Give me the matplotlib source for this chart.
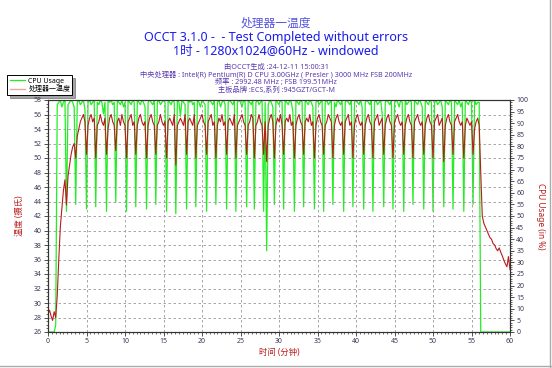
import numpy as np
import matplotlib
matplotlib.use("Agg")
import matplotlib.pyplot as plt
from matplotlib.ticker import MultipleLocator
from matplotlib.lines import Line2D

plt.rcParams['font.family'] = ['Noto Sans', 'Noto Sans CJK SC', 'DejaVu Sans']

# sample step: 0.2 minute
minutes = np.arange(301) * 0.2

cpu_usage = [
    0, 0, 0, 0, 0, 3, 98, 99, 100, 97,
    99, 100, 52, 98, 99, 100, 99, 97, 55, 99,
    100, 98, 99, 100, 96, 53, 99, 100, 98, 99,
    100, 54, 99, 98, 100, 99, 94, 99, 52, 100,
    99, 100, 98, 99, 56, 100, 99, 98, 100, 97,
    99, 52, 100, 99, 98, 100, 99, 54, 100, 99,
    98, 100, 99, 97, 53, 99, 100, 99, 98, 100,
    55, 99, 100, 98, 99, 100, 99, 52, 100, 99,
    98, 100, 99, 51, 100, 99, 93, 100, 99, 98,
    53, 100, 99, 100, 98, 99, 54, 100, 99, 97,
    100, 99, 98, 52, 99, 100, 99, 98, 100, 55,
    99, 100, 97, 99, 100, 98, 53, 99, 100, 99,
    98, 100, 52, 99, 100, 99, 97, 100, 99, 54,
    100, 99, 98, 100, 53, 99, 100, 98, 99, 100,
    52, 99, 35, 98, 100, 99, 97, 55, 100, 99,
    98, 100, 99, 53, 100, 99, 98, 100, 99, 95,
    52, 100, 99, 98, 100, 99, 54, 100, 99, 98,
    100, 99, 97, 53, 99, 100, 98, 99, 100, 52,
    99, 100, 98, 99, 100, 55, 99, 97, 100, 99,
    98, 100, 52, 99, 100, 99, 98, 100, 54, 99,
    100, 99, 98, 100, 97, 53, 99, 100, 99, 98,
    100, 52, 99, 100, 98, 99, 100, 94, 54, 99,
    100, 99, 98, 100, 53, 99, 100, 99, 97, 100,
    99, 52, 100, 98, 99, 100, 99, 55, 100, 99,
    98, 100, 99, 97, 53, 100, 99, 98, 100, 99,
    52, 99, 100, 98, 99, 100, 97, 54, 100, 99,
    98, 100, 99, 53, 100, 99, 98, 100, 97, 99,
    52, 100, 99, 98, 100, 99, 55, 100, 98, 99,
    99, 0, 0, 0, 0, 0, 0, 0, 0, 0,
    0, 0, 0, 0, 0, 0, 0, 0, 0, 0,
    0,
]

cpu_temp = [
    28.5, 29.0, 28.2, 27.6, 28.8, 28.0, 31.0, 36.0, 40.5, 43.0,
    45.5, 47.0, 43.5, 47.5, 49.0, 50.5, 51.5, 52.0, 50.0, 53.0,
    54.0, 55.0, 55.5, 56.0, 55.0, 50.5, 54.5, 55.5, 56.0, 55.0,
    55.5, 50.0, 54.5, 55.0, 56.0, 55.0, 54.5, 55.5, 50.5, 54.0,
    55.5, 56.0, 55.0, 54.5, 51.0, 55.0, 55.5, 54.5, 56.0, 55.0,
    54.5, 50.0, 55.0, 55.5, 56.0, 54.5, 55.0, 50.5, 54.5, 55.5,
    56.0, 55.0, 54.5, 55.0, 50.0, 54.5, 55.5, 56.0, 55.0, 54.5,
    50.5, 54.5, 55.0, 56.0, 55.0, 54.5, 55.0, 50.0, 55.0, 55.5,
    55.0, 54.5, 56.0, 49.0, 54.5, 55.0, 55.5, 55.0, 54.5, 56.0,
    50.5, 55.0, 55.5, 55.0, 54.5, 56.0, 50.0, 54.5, 55.0, 55.5,
    56.0, 55.0, 54.5, 50.5, 55.0, 55.5, 56.0, 54.5, 55.0, 50.0,
    54.5, 55.5, 55.0, 56.0, 54.5, 55.0, 50.5, 55.0, 55.5, 55.0,
    54.5, 56.0, 50.0, 54.5, 55.0, 55.5, 56.0, 55.0, 54.5, 50.5,
    54.5, 55.0, 56.0, 55.5, 50.0, 54.5, 55.0, 56.0, 55.0, 54.5,
    50.5, 55.0, 49.5, 54.5, 55.5, 56.0, 55.0, 50.0, 54.5, 55.5,
    55.0, 56.0, 54.5, 50.5, 55.0, 55.5, 55.0, 56.0, 54.5, 55.0,
    50.0, 54.5, 55.5, 56.0, 55.0, 54.5, 50.5, 55.0, 55.5, 55.0,
    56.0, 54.5, 55.0, 50.0, 54.5, 55.5, 56.0, 55.0, 54.5, 50.5,
    54.5, 55.0, 56.0, 55.5, 55.0, 50.0, 54.5, 55.5, 56.0, 55.0,
    54.5, 55.0, 50.5, 55.0, 55.5, 56.0, 54.5, 55.0, 50.0, 54.5,
    55.5, 56.0, 55.0, 54.5, 55.0, 50.5, 54.5, 55.5, 56.0, 55.0,
    54.5, 50.0, 55.0, 55.5, 56.0, 54.5, 55.0, 55.5, 50.5, 54.5,
    55.5, 56.0, 55.0, 54.5, 50.0, 55.0, 55.5, 56.0, 55.0, 54.5,
    55.0, 50.5, 54.5, 55.5, 56.0, 55.0, 54.5, 50.0, 55.0, 55.5,
    56.0, 55.0, 54.5, 55.0, 50.5, 54.5, 55.5, 56.0, 55.0, 54.5,
    50.0, 55.0, 55.5, 56.0, 54.5, 55.0, 55.5, 49.5, 54.5, 55.5,
    56.0, 55.0, 54.5, 50.5, 55.0, 55.5, 56.0, 55.0, 54.5, 55.0,
    50.0, 54.5, 55.5, 55.0, 54.5, 55.0, 50.5, 54.0, 55.0, 55.5,
    54.5, 48.0, 42.0, 41.0, 40.5, 40.0, 39.5, 39.0, 38.8, 38.2,
    38.0, 37.5, 37.2, 37.6, 37.0, 36.5, 35.9, 35.4, 35.0, 36.4,
    34.6,
]

info_lines = [
    "由OCCT生成 :24-12-11 15:00:31",
    "中央处理器 : Intel(R) Pentium(R) D CPU 3.00GHz ( Presler ) 3000 MHz FSB 200MHz",
    "频率 : 2992.48 MHz ; FSB 199.51MHz",
    "主板品牌 :ECS,系列 :945GZT/GCT-M",
]

red = '#b81c1c'
green = '#22ee22'
tick_col = '#3a3a5a'

fig = plt.figure(figsize=(5.52, 3.68), dpi=100)
ax = fig.add_axes([48/552, 1-332/368, 462/552, 232/368])
ax2 = ax.twinx()

ax.set_zorder(ax2.get_zorder() + 1)
ax.patch.set_visible(False)
ax2.set_facecolor('#fdf4e2')

l1, = ax2.plot(minutes, cpu_usage, color=green, lw=0.9)
l2 = Line2D([], [], color='#e8a8a8', lw=1)
ax.plot(minutes, cpu_temp, color=red, lw=0.8)

ax.set_xlim(0, 60)
ax.set_ylim(26, 58)
ax2.set_ylim(0, 100)
ax.xaxis.set_major_locator(MultipleLocator(5))
ax.xaxis.set_minor_locator(MultipleLocator(0.5))
ax.yaxis.set_major_locator(MultipleLocator(2))
ax.yaxis.set_minor_locator(MultipleLocator(0.5))
ax2.yaxis.set_major_locator(MultipleLocator(5))
ax2.yaxis.set_minor_locator(MultipleLocator(1))

ax.grid(True, which='major', color='#999999', ls=(0, (3, 3)), lw=0.6)
for a in (ax, ax2):
    a.tick_params(which='major', length=3, width=0.6, labelsize=5, colors='#333333',
                  labelcolor=tick_col, pad=1.5)
    a.tick_params(which='minor', length=1.5, width=0.5, colors='#333333')
    for s in a.spines.values():
        s.set_color('#333333')
        s.set_linewidth(0.8)

ax.set_ylabel("温度 (摄氏)", color=red, fontsize=6, labelpad=7)
ax2.set_ylabel("CPU Usage (in %)", color=red, fontsize=6, rotation=270, labelpad=12)
ax.set_xlabel("时间 (分钟)", color=red, fontsize=6, labelpad=2)

fig.text(0.5, 1-23/368, "处理器一温度", ha='center', va='center', fontsize=8.5, color='#5555dd')
fig.text(0.5, 1-38/368, "OCCT 3.1.0 -  - Test Completed without errors", ha='center', va='center',
         fontsize=9, color='#1a1aee')
fig.text(0.5, 1-52/368, "1时 - 1280x1024@60Hz - windowed", ha='center', va='center',
         fontsize=9, color='#1a1aee')
for k, line in enumerate(info_lines):
    fig.text(0.5, 1-(67.5+7.5*k)/368, line, ha='center', va='center', fontsize=5.2, color='#5a3ab0')

leg = fig.legend([l1, l2], ["CPU Usage", "处理器一温度"], loc='upper left',
                 bbox_to_anchor=(4/552, 1-72/368), fontsize=5, frameon=True, fancybox=False,
                 shadow=True, handlelength=2.2, borderpad=0.3, labelspacing=0.2, handletextpad=0.5)
leg.get_frame().set_edgecolor('#000000')
leg.get_frame().set_linewidth(0.7)

fig.add_artist(Line2D([0, 1], [2/368, 2/368], transform=fig.transFigure, color='#aaaaaa', lw=1))
fig.add_artist(Line2D([1-2/552, 1-2/552], [0, 1], transform=fig.transFigure, color='#aaaaaa', lw=1))

fig.savefig("out.png", dpi=100, facecolor='white')
